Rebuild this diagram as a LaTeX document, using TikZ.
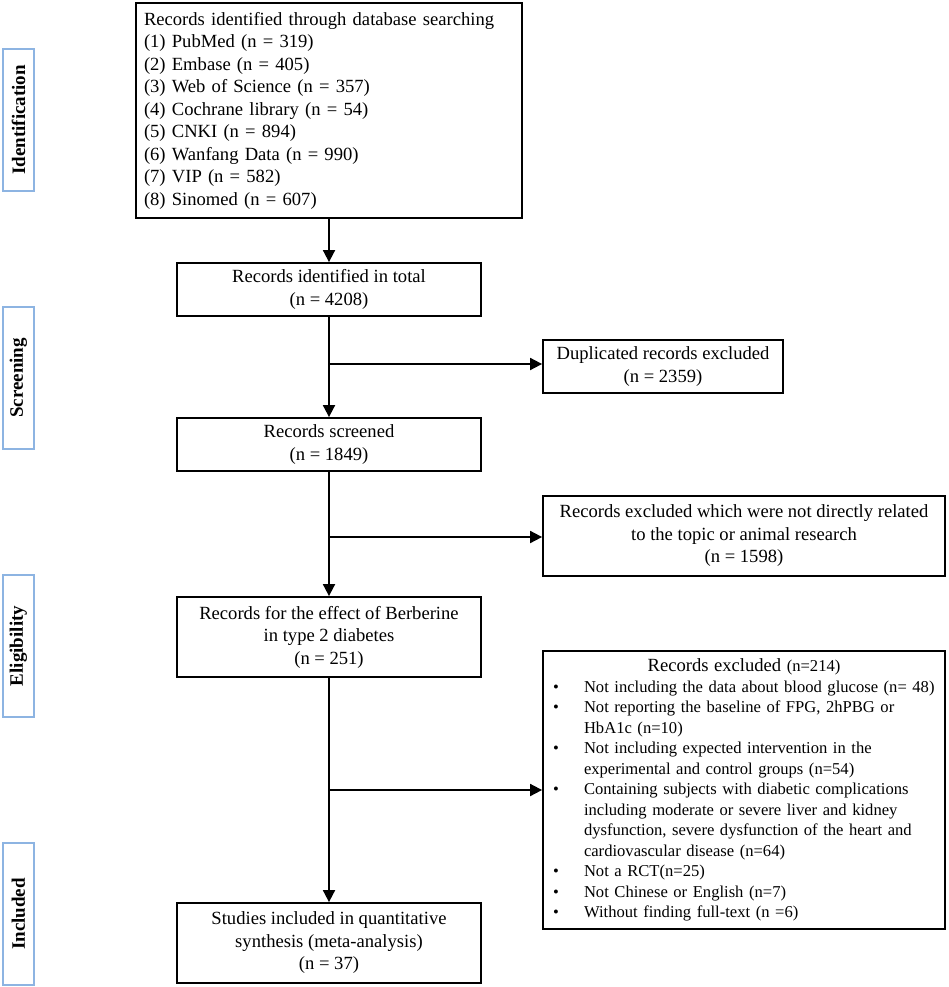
\documentclass[tikz,border=0pt]{standalone}
\usepackage{fontspec}
\setmainfont{Liberation Serif}
\usetikzlibrary{arrows.meta}
\definecolor{phaseblue}{RGB}{141,180,226}
\newcommand{\exitem}[1]{\par\noindent\hangindent=38pt\hangafter=1\makebox[38pt][l]{\hspace{7pt}\textbullet}#1}

\begin{document}
\begin{tikzpicture}[x=1pt,y=-1pt,
    box/.style={draw=black, line width=1.8pt, inner xsep=8pt, inner ysep=0pt, align=center,
      minimum width=304pt, minimum height=53pt, font=\fontsize{18.6}{22.5}\selectfont},
    listbox/.style={draw=black, line width=1.8pt, inner xsep=3pt, inner ysep=2pt, text width=396pt,
      minimum height=278pt, font=\fontsize{16.6}{20.5}\selectfont},
    phase/.style={draw=phaseblue, line width=2.2pt, rotate=90, minimum width=142pt, minimum height=31pt,
      inner sep=0pt, font=\fontsize{19}{22}\selectfont\bfseries},
    flow/.style={line width=1.8pt, -{Triangle[length=12pt,width=12pt]}}]
    \useasboundingbox (0,0) rectangle (948,987);
    \node[phase] (ident) at (18.5,120) {Identification};
    \node[phase] (screen) at (18.5,378) {Screening};
    \node[phase] (elig) at (18.5,646) {Eligibility};
    \node[phase] (incl) at (18.5,914) {Included};
    \node[box, align=left, text width=370pt, minimum height=215pt] (search) at (329,110.5)
      {Records identified through database searching\\(1) PubMed (n = 319)\\(2) Embase (n = 405)\\
       (3) Web of Science (n = 357)\\(4) Cochrane library (n = 54)\\(5) CNKI (n = 894)\\
       (6) Wanfang Data (n = 990)\\(7) VIP (n = 582)\\(8) Sinomed (n = 607)};
    \node[box] (total) at (329,289.5) {Records identified in total\\(n = 4208)};
    \node[box] (screened) at (329,444.5) {Records screened\\(n = 1849)};
    \node[box, minimum height=80pt] (berb) at (329,637) {Records for the effect of Berberine\\in type 2 diabetes\\(n = 251)};
    \node[box, minimum height=80pt] (synth) at (329,943) {Studies included in quantitative\\synthesis (meta-analysis)\\(n = 37)};
    \node[box, minimum width=240pt] (dup) at (663,366.5) {Duplicated records excluded\\(n = 2359)};
    \node[box, minimum width=402pt, minimum height=80pt] (unrel) at (744,536)
      {Records excluded which were not directly related\\to the topic or animal research\\(n = 1598)};
    \node[listbox] (excl) at (744,790) {\raggedright
      \noindent\makebox[\hsize]{\fontsize{18.6}{20.5}\selectfont Records excluded {\fontsize{16.6}{20.5}\selectfont(n=214)}}
      \exitem{\mbox{Not including the data about blood glucose (n= 48)}}
      \exitem{\mbox{Not reporting the baseline of FPG, 2hPBG or}\newline \mbox{HbA1c (n=10)}}
      \exitem{\mbox{Not including expected intervention in the}\newline
        \mbox{experimental and control groups (n=54)}}
      \exitem{\mbox{Containing subjects with diabetic complications}\newline
        \mbox{including moderate or severe liver and kidney}\newline
        \mbox{dysfunction, severe dysfunction of the heart and}\newline
        \mbox{cardiovascular disease (n=64)}}
      \exitem{Not a RCT(n=25)}
      \exitem{Not Chinese or English (n=7)}
      \exitem{Without finding full-text (n =6)}\par};
    \coordinate (j1) at (329,364);
    \coordinate (j2) at (329,537);
    \coordinate (j3) at (329,790);
    \draw[flow] (search) -- (total);
    \draw[flow] (total) -- (screened);
    \draw[flow] (screened) -- (berb);
    \draw[flow] (berb) -- (synth);
    \draw[flow] (j1) -- (j1 -| dup.west);
    \draw[flow] (j2) -- (j2 -| unrel.west);
    \draw[flow] (j3) -- (j3 -| excl.west);
\end{tikzpicture}
\end{document}
